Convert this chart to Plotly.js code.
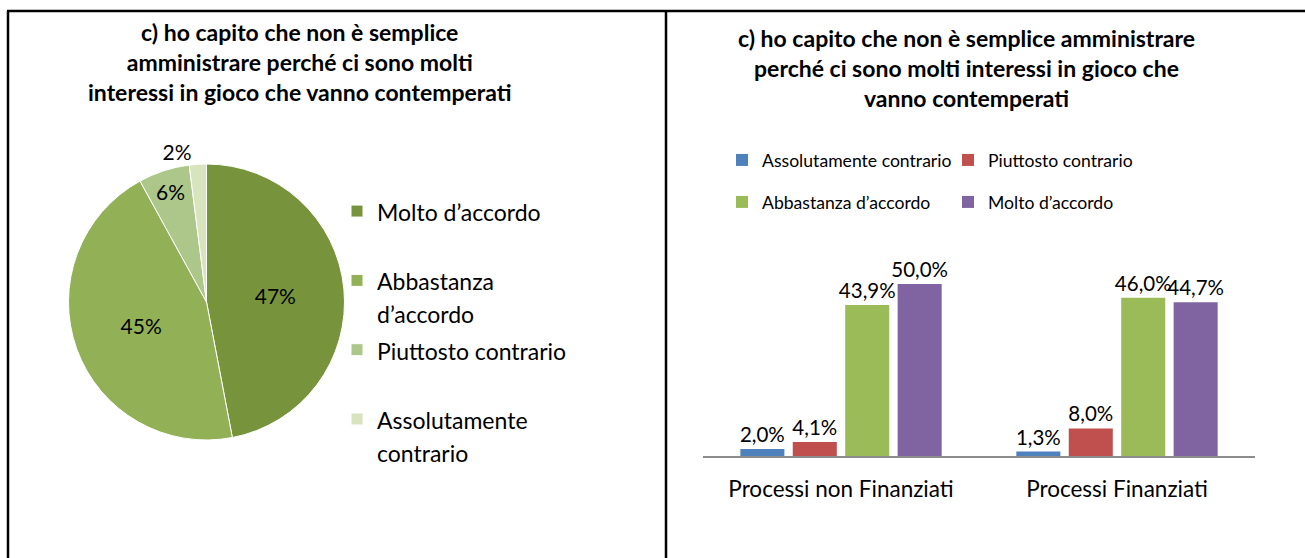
<!DOCTYPE html>
<html>
<head>
<meta charset="utf-8">
<script src="https://cdn.plot.ly/plotly-3.0.1.min.js"></script>
<style>
  html, body { margin: 0; padding: 0; background: #fff; }
  #chart { width: 1305px; height: 558px; }
</style>
</head>
<body>
<div id="chart"></div>
<script>
// pie (left)
var pieLabels = ["Molto d\u2019accordo", "Abbastanza<br>d\u2019accordo", "Piuttosto contrario", "Assolutamente<br>contrario"];
var pieValues = [47, 45, 6, 2];
var pieColors = ["#77933C", "#92B156", "#ADC78A", "#D7E4BD"];

// grouped bars (right)
var categories = ["Processi non Finanziati", "Processi Finanziati"];
var assolutamente = [2.0, 1.3];
var piuttosto = [4.1, 8.0];
var abbastanza = [43.9, 46.0];
var molto = [50.0, 44.7];

var FONT = "Lato, 'Open Sans', sans-serif";
var W = 1305, H = 558;
function px(x) { return x / W; }
function py(y) { return 1 - y / H; }

// pie legend: bigger legend font only to space the rows, text drawn at 23px
var legendNames = pieLabels.map(function (l) {
    var t = l.indexOf("<br>") >= 0 ? l : l + "<br>\u00a0";
    return t.split("<br>").map(function (s) {
        return '<span style="font-size:23px">' + s + '</span>';
    }).join("<br>");
});

var pie = {
    type: "pie",
    labels: legendNames,
    values: pieValues,
    sort: false,
    direction: "clockwise",
    rotation: 0,
    marker: {colors: pieColors, line: {color: "#ffffff", width: 1}},
    texttemplate: "%{percent:.0%}",
    textposition: ["inside", "inside", "inside", "outside"],
    insidetextorientation: "horizontal",
    textfont: {family: FONT, size: 21, color: "#000"},
    hoverinfo: "label+percent",
    domain: {x: [px(68), px(345)], y: [py(440), py(164)]},
    legend: "legend"
};

function barTrace(name, vals, color, leg) {
    return {
        type: "bar",
        name: name,
        x: categories,
        y: vals,
        marker: {color: color},
        texttemplate: "%{y:.1f}%",
        textposition: "outside",
        constraintext: "none",
        cliponaxis: false,
        textfont: {family: FONT, size: 20.5, color: "#000"},
        legend: leg
    };
}

var data = [
    pie,
    barTrace("Assolutamente contrario", assolutamente, "#4F81BD", "legend2"),
    barTrace("Piuttosto contrario", piuttosto, "#C0504D", "legend2"),
    barTrace("Abbastanza d\u2019accordo", abbastanza, "#9BBB59", "legend3"),
    barTrace("Molto d\u2019accordo", molto, "#8064A2", "legend3")
];

var titleFont = {family: FONT, size: 23, color: "#000", weight: "bold"};

var layout = {
    width: W,
    height: H,
    margin: {l: 0, r: 0, t: 0, b: 0},
    paper_bgcolor: "#fff",
    plot_bgcolor: "#fff",
    separators: ",.",
    font: {family: FONT, color: "#000"},
    barmode: "group",
    bargap: 0.24,
    bargroupgap: 0.16,
    xaxis: {
        domain: [px(703), px(1255)],
        type: "category",
        showline: true,
        linecolor: "#8c8c8c",
        linewidth: 1.5,
        ticks: "",
        showgrid: false,
        zeroline: false,
        tickfont: {family: FONT, size: 22.5, color: "#000"},
        ticklabelstandoff: 12,
        fixedrange: true
    },
    yaxis: {
        domain: [py(456), py(456 - 55 * 3.44)],
        range: [0, 55],
        visible: false,
        showgrid: false,
        zeroline: false,
        fixedrange: true
    },
    legend: {
        x: px(337), xanchor: "left",
        y: py(188), yanchor: "top",
        orientation: "v",
        valign: "top",
        traceorder: "normal",
        font: {family: FONT, size: 25.5, color: "#000"},
        bgcolor: "rgba(0,0,0,0)"
    },
    legend2: {
        x: px(722), xanchor: "left",
        y: py(142), yanchor: "top",
        orientation: "h",
        entrywidth: 181,
        font: {family: FONT, size: 17.6, color: "#000"},
        bgcolor: "rgba(0,0,0,0)"
    },
    legend3: {
        x: px(722), xanchor: "left",
        y: py(184), yanchor: "top",
        orientation: "h",
        entrywidth: 181,
        font: {family: FONT, size: 17.6, color: "#000"},
        bgcolor: "rgba(0,0,0,0)"
    },
    annotations: [
        {
            xref: "paper", yref: "paper",
            x: px(300), y: py(62.5), xanchor: "center", yanchor: "middle",
            showarrow: false,
            text: "c) ho capito che non è semplice<br>amministrare perché ci sono molti<br>interessi in gioco che vanno contemperati",
            font: titleFont
        },
        {
            xref: "paper", yref: "paper",
            x: px(966), y: py(67.5), xanchor: "center", yanchor: "middle",
            showarrow: false,
            text: "c) ho capito che non è semplice amministrare<br>perché ci sono molti interessi in gioco che<br>vanno contemperati",
            font: titleFont
        }
    ],
    shapes: [
        // table frame around the two charts
        {type: "line", xref: "paper", yref: "paper", x0: px(7), x1: 1, y0: py(11), y1: py(11), line: {color: "#000", width: 2.5}},
        {type: "line", xref: "paper", yref: "paper", x0: px(8), x1: px(8), y0: py(11), y1: 0, line: {color: "#000", width: 2.5}},
        {type: "line", xref: "paper", yref: "paper", x0: px(666), x1: px(666), y0: py(11), y1: 0, line: {color: "#000", width: 2.5}}
    ]
};

Plotly.newPlot("chart", data, layout, {displayModeBar: false, staticPlot: true});
</script>
</body>
</html>
